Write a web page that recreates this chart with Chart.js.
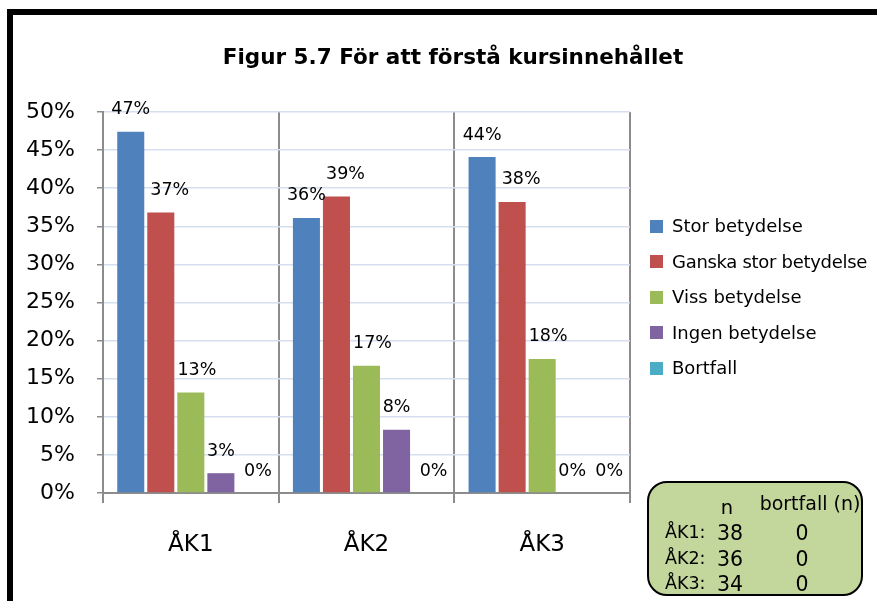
<!DOCTYPE html>
<html>
<head>
<meta charset="utf-8">
<script src="https://cdn.jsdelivr.net/npm/chart.js@4.4.1/dist/chart.umd.min.js"></script>
<style>
  html, body { margin: 0; padding: 0; background: #ffffff; }
  #wrap { position: relative; width: 877px; height: 601px; overflow: hidden; background: #fff; font-family: "DejaVu Sans", sans-serif; color: #000; }
  #frame { position: absolute; left: 7px; top: 9px; width: 900px; height: 700px; border-left: 6px solid #000; border-top: 6px solid #000; box-sizing: border-box; }
  canvas { position: absolute; left: 0; top: 0; }
  #title { position: absolute; left: 153px; width: 600px; top: 44px; text-align: center; font-family: "DejaVu Sans", sans-serif; font-weight: bold; font-size: 21.5px; line-height: 26px; white-space: nowrap; }
  .leg { position: absolute; left: 650px; height: 24px; font-size: 18px; line-height: 24px; white-space: nowrap; }
  .leg .sw { position: absolute; left: 0; top: 5.5px; width: 13px; height: 13px; }
  .leg .tx { position: absolute; left: 22px; top: 0; }
  #tbl { position: absolute; left: 647px; top: 481px; width: 216px; height: 115px; box-sizing: border-box; border: 2px solid #000; border-radius: 20px; background: #c3d69b; }
  .tt { position: absolute; white-space: nowrap; line-height: 24px; height: 24px; }
</style>
</head>
<body>
<div id="wrap">
  <div id="frame"></div>
  <canvas id="c" width="877" height="601"></canvas>
  <div id="title"></div>
  <div id="legend"></div>
  <div id="tbl"></div>
</div>
<script>
// ---- data ----
const titleText = "Figur 5.7 För att förstå kursinnehållet";
const categories = ["ÅK1", "ÅK2", "ÅK3"];
const seriesNames = ["Stor betydelse", "Ganska stor betydelse", "Viss betydelse", "Ingen betydelse", "Bortfall"];
const storBetydelse = [47.4, 36.1, 44.1];
const ganskaStorBetydelse = [36.8, 38.9, 38.2];
const vissBetydelse = [13.2, 16.7, 17.6];
const ingenBetydelse = [2.6, 8.3, 0];
const bortfall = [0, 0, 0];
const yTicks = [0, 5, 10, 15, 20, 25, 30, 35, 40, 45, 50];
const tableHeaders = ["n", "bortfall (n)"];
const tableRows = ["ÅK1:", "ÅK2:", "ÅK3:"];
const nValues = [38, 36, 34];
const bortfallN = [0, 0, 0];

// ---- styles ----
const colors = ["#4f81bd", "#c0504d", "#9bbb59", "#8064a2", "#4bacc6"];
const labelShift = [0, 9, 6, 0, 7];
const seriesValues = [storBetydelse, ganskaStorBetydelse, vissBetydelse, ingenBetydelse, bortfall];

document.getElementById('title').textContent = titleText;

// legend
const legend = document.getElementById('legend');
seriesNames.forEach((name, i) => {
  const d = document.createElement('div');
  d.className = 'leg';
  d.style.top = (214 + i * 35.5) + 'px';
  d.innerHTML = '<div class="sw" style="background:' + colors[i] + '"></div><div class="tx"></div>';
  const tx = d.querySelector('.tx');
  tx.textContent = name;
  if (name.length > 18) tx.style.letterSpacing = '-0.3px';
  legend.appendChild(d);
});

// table
const tbl = document.getElementById('tbl');
function addText(txt, x, y, size, align) {
  const s = document.createElement('div');
  s.className = 'tt';
  s.textContent = txt;
  s.style.fontSize = size + 'px';
  s.style.top = (y - 12) + 'px';
  if (align === 'center') { s.style.left = (x - 100) + 'px'; s.style.width = '200px'; s.style.textAlign = 'center'; }
  else { s.style.left = x + 'px'; }
  tbl.appendChild(s);
}
// coordinates relative to table box (inside border)
addText(tableHeaders[0], 80 - 2, 27 - 2, 19.5, 'center');
addText(tableHeaders[1], 163 - 2, 22 - 2, 19, 'center');
tableRows.forEach((r, i) => {
  const y = 51 + i * 25.5 - 2;
  addText(r, 16, y, 17.5, 'left');
  addText(String(nValues[i]), 83 - 2, y + 1, 20.5, 'center');
  addText(String(bortfallN[i]), 155 - 2, y + 1, 20.5, 'center');
});

// data labels plugin
const barLabels = {
  id: 'barLabels',
  afterDatasetsDraw(chart) {
    const ctx = chart.ctx;
    ctx.save();
    ctx.font = '17.5px "DejaVu Sans"';
    ctx.fillStyle = '#000';
    ctx.textAlign = 'center';
    ctx.textBaseline = 'middle';
    chart.data.datasets.forEach((ds, di) => {
      const meta = chart.getDatasetMeta(di);
      meta.data.forEach((bar, i) => {
        const v = ds.data[i];
        ctx.fillText(Math.round(v) + '%', bar.x + labelShift[di], bar.y - 22);
      });
    });
    ctx.restore();
  }
};

new Chart(document.getElementById('c'), {
  type: 'bar',
  data: {
    labels: categories,
    datasets: seriesNames.map((n, i) => ({
      label: n,
      data: seriesValues[i],
      backgroundColor: colors[i],
      borderWidth: 0,
      categoryPercentage: 0.855,
      barPercentage: 0.9
    }))
  },
  options: {
    responsive: false,
    animation: false,
    devicePixelRatio: 1,
    layout: { padding: { top: 112, right: 247, bottom: 0, left: 0 } },
    plugins: { legend: { display: false }, title: { display: false }, tooltip: { enabled: false } },
    scales: {
      x: {
        afterFit(s) { s.height = 108; },
        grid: { offset: true, color: '#8c8c8c', lineWidth: 2, tickLength: 10, drawOnChartArea: true },
        border: { color: '#8c8c8c', width: 2 },
        ticks: { color: '#000', font: { family: 'DejaVu Sans', size: 23 }, padding: 28 }
      },
      y: {
        min: 0, max: 50,
        afterFit(s) { s.width = 103; },
        afterBuildTicks(s) { s.ticks = yTicks.map(v => ({ value: v })); },
        grid: {
          color: (c) => c.tick && c.tick.value === 0 ? '#8c8c8c' : '#d5dff0',
          lineWidth: 1.5,
          tickColor: '#8c8c8c',
          tickLength: 6
        },
        border: { color: '#8c8c8c', width: 2 },
        ticks: { color: '#000', font: { family: 'DejaVu Sans', size: 22 }, padding: 22, callback: (v) => v + '%' }
      }
    }
  },
  plugins: [barLabels]
});
</script>
</body>
</html>
